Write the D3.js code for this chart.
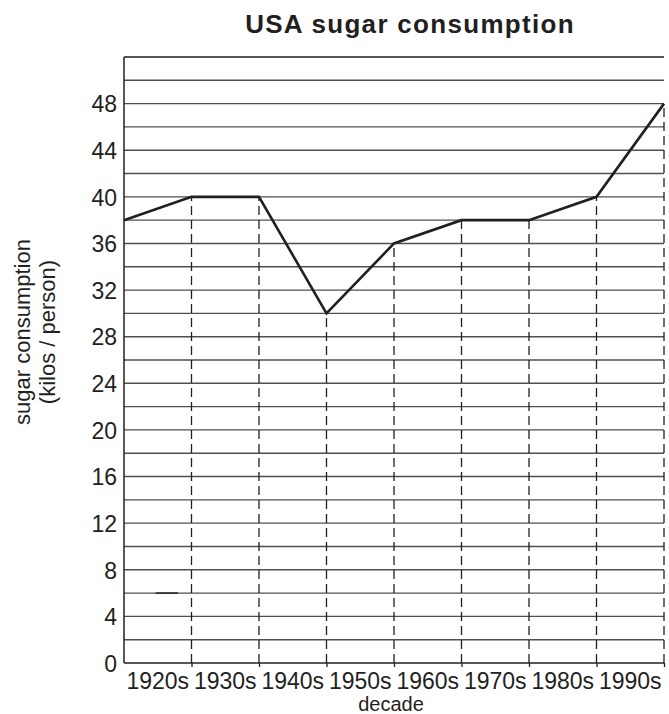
<!DOCTYPE html>
<html>
<head>
<meta charset="utf-8">
<script src="https://cdn.jsdelivr.net/npm/d3@7"></script>
<style>
  body { margin: 0; background: #fff; }
  svg text { font-family: "Liberation Sans", Arial, Helvetica, sans-serif; fill: #231f20; }
</style>
</head>
<body>
<svg id="chart" width="669" height="714"></svg>
<script>
// decade labels sit between the grid lines
var decades = ["1920s", "1930s", "1940s", "1950s", "1960s", "1970s", "1980s", "1990s"];
// consumption read at each decade boundary (9 points)
var consumption = [38, 40, 40, 30, 36, 38, 38, 40, 48];
var yTicks = [0, 4, 8, 12, 16, 20, 24, 28, 32, 36, 40, 44, 48];
var gridValues = d3.range(2, 52, 2);
var yMax = 52;
// small stray dash in the original near the bottom
var strayValue = 6;

(function () {
  "use strict";

  var svg = d3.select("#chart"),
      plotLeft = 124,
      plotRight = 664,
      plotTop = 57,
      plotBottom = 663,
      ink = "#231f20";

  var x = d3.scaleLinear().domain([0, decades.length]).range([plotLeft, plotRight]);
  var y = d3.scaleLinear().domain([0, yMax]).range([plotBottom, plotTop]);

  // horizontal grid
  svg.append("g")
    .selectAll("line")
    .data(gridValues)
    .enter()
    .append("line")
    .attr("x1", plotLeft)
    .attr("x2", plotRight)
    .attr("y1", function (d) { return y(d); })
    .attr("y2", function (d) { return y(d); })
    .attr("stroke", "#505050")
    .attr("stroke-width", 1.4);

  // top frame line
  svg.append("line")
    .attr("x1", plotLeft).attr("x2", plotRight)
    .attr("y1", y(yMax)).attr("y2", y(yMax))
    .attr("stroke", ink).attr("stroke-width", 1.5);

  // dashed drop lines from each point down to the axis
  svg.append("g")
    .selectAll("line")
    .data(consumption.slice(1))
    .enter()
    .append("line")
    .attr("x1", function (d, i) { return x(i + 1); })
    .attr("x2", function (d, i) { return x(i + 1); })
    .attr("y1", y(0))
    .attr("y2", function (d) { return y(d); })
    .attr("stroke", ink)
    .attr("stroke-width", 1.3)
    .attr("stroke-dasharray", "9,5");

  // stray dash
  svg.append("line")
    .attr("x1", x(0.47)).attr("x2", x(0.8))
    .attr("y1", y(strayValue)).attr("y2", y(strayValue))
    .attr("stroke", ink).attr("stroke-width", 1.5);

  // axes
  var yAxis = d3.axisLeft(y).tickValues(yTicks).tickSize(0).tickPadding(7);
  var gy = svg.append("g").attr("transform", "translate(" + plotLeft + ",0)").call(yAxis);
  gy.select(".domain").attr("stroke", ink).attr("stroke-width", 1.5)
    .attr("d", "M0," + y(yMax) + "V" + y(0));
  gy.selectAll("text").style("font-size", "23px").attr("dy", "0.36em");

  var xAxis = d3.axisBottom(x).tickValues(d3.range(1, decades.length + 1))
    .tickSize(4).tickFormat("");
  var gx = svg.append("g").attr("transform", "translate(0," + plotBottom + ")").call(xAxis);
  gx.select(".domain").attr("stroke", ink).attr("stroke-width", 1.5)
    .attr("d", "M" + plotLeft + ",0H" + plotRight);
  gx.selectAll(".tick line").attr("stroke", ink).attr("stroke-width", 1.3);

  svg.append("g")
    .selectAll("text")
    .data(decades)
    .enter()
    .append("text")
    .attr("x", function (d, i) { return x(i + 0.5); })
    .attr("y", 689)
    .attr("text-anchor", "middle")
    .style("font-size", "23px")
    .text(function (d) { return d; });

  // data line
  var line = d3.line()
    .x(function (d, i) { return x(i); })
    .y(function (d) { return y(d); });
  svg.append("path")
    .datum(consumption)
    .attr("d", line)
    .attr("fill", "none")
    .attr("stroke", ink)
    .attr("stroke-width", 2.6)
    .attr("stroke-linejoin", "miter");

  // titles
  svg.append("text")
    .attr("x", 410).attr("y", 33)
    .attr("text-anchor", "middle")
    .style("font-size", "26px")
    .style("font-weight", "bold")
    .style("letter-spacing", "1.3px")
    .text("USA sugar consumption");

  svg.append("text")
    .attr("x", 391).attr("y", 711)
    .attr("text-anchor", "middle")
    .style("font-size", "20px")
    .text("decade");

  var yTitle = svg.append("text")
    .attr("transform", "translate(30,332) rotate(-90)")
    .attr("text-anchor", "middle")
    .style("font-size", "22px");
  yTitle.append("tspan").attr("x", 0).attr("y", 0).text("sugar consumption");
  yTitle.append("tspan").attr("x", 0).attr("y", 25).text("(kilos / person)");
}());
</script>
</body>
</html>
